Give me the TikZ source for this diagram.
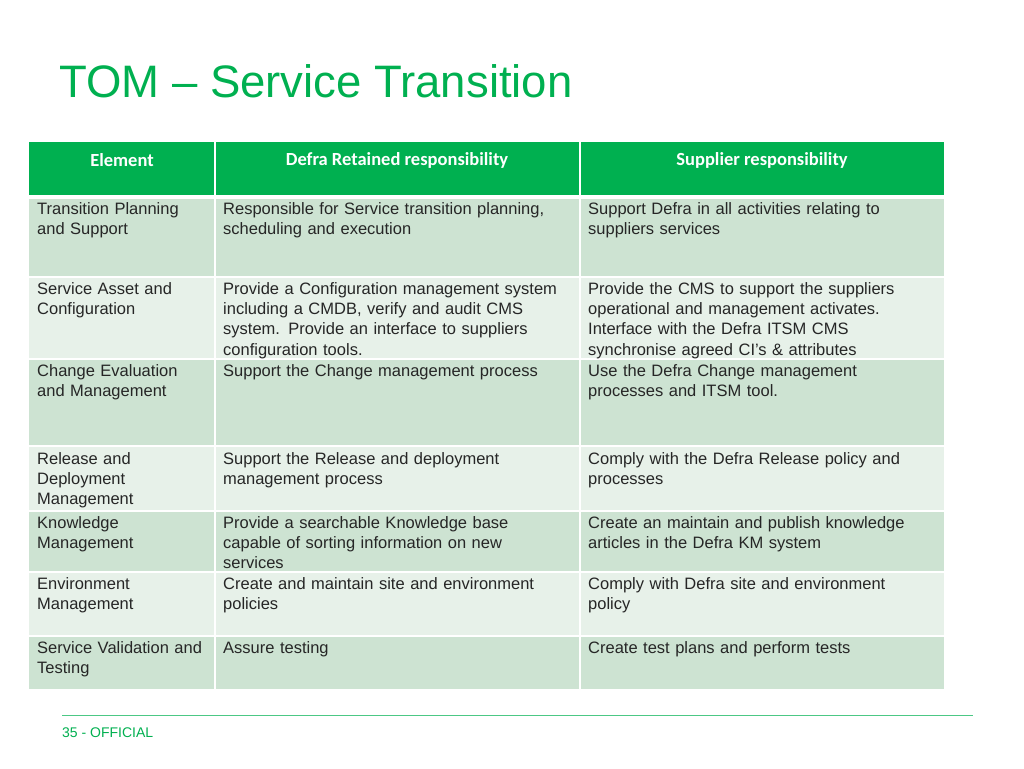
\documentclass[tikz,border=0pt]{standalone}
\usepackage{fontspec}
\setmainfont{Liberation Sans}
\newfontfamily\hdfont{Carlito}
\definecolor{tgreen}{HTML}{00B050}
\definecolor{rdark}{HTML}{CDE3D2}
\definecolor{rlight}{HTML}{E7F1E9}
\begin{document}
\begin{tikzpicture}[x=1pt,y=-1pt,
  cell/.style={anchor=north west,inner sep=0pt,align=left,font=\fontsize{16.5}{20.4}\selectfont,text=black!85},
  wide/.style={cell,text width=355pt},
  narrow/.style={cell,text width=180pt},
  hd/.style={font=\hdfont\bfseries\fontsize{18.5}{20}\selectfont,text=white,anchor=center}]
\useasboundingbox (0,0) rectangle (1024,768);
\fill[white] (0,0) rectangle (1024,768);
\node[anchor=west,text=tgreen,font=\fontsize{45.5}{50}\selectfont,inner sep=0pt] (title) at (59,81) {TOM – Service Transition};
\fill[tgreen] (29,142) rectangle (944,195);
\def\rows{198/277/rdark,277/359/rlight,359/446/rdark,446/511/rlight,511/572/rdark,572/636/rlight,636/689/rdark}
\foreach \a/\b/\c in \rows {\fill[\c] (29,\a) rectangle (944,\b);}
\foreach \a/\b/\c in \rows {\draw[white,line width=1.5pt] (29,\a) -- (944,\a);}
\draw[white,line width=2pt] (215,142) -- (215,689) (580,142) -- (580,689);
\draw[white,line width=2pt] (29,196) -- (944,196);
\node[hd] (h1) at (122,160) {Element};
\node[hd] (h2) at (397,160) {Defra Retained responsibility};
\node[hd] (h3) at (762,160) {Supplier responsibility};
\node[narrow] (a1) at (37,202) {Transition Planning\\and Support};
\node[wide] (b1) at (223,202) {Responsible for Service transition planning,\\scheduling and execution};
\node[wide] (c1) at (588,202) {Support Defra in all activities relating to\\suppliers services};
\node[narrow] (a2) at (37,282) {Service Asset and\\Configuration};
\node[wide] (b2) at (223,282) {Provide a Configuration management system\\including a CMDB, verify and audit CMS\\system. Provide an interface to suppliers\\configuration tools.};
\node[wide] (c2) at (588,282) {Provide the CMS to support the suppliers\\operational and management activates.\\Interface with the Defra ITSM CMS\\synchronise agreed CI’s \& attributes};
\node[narrow] (a3) at (37,364) {Change Evaluation\\and Management};
\node[wide] (b3) at (223,364) {Support the Change management process};
\node[wide] (c3) at (588,364) {Use the Defra Change management\\processes and ITSM tool.};
\node[narrow] (a4) at (37,452) {Release and\\Deployment\\Management};
\node[wide] (b4) at (223,452) {Support the Release and deployment\\management process};
\node[wide] (c4) at (588,452) {Comply with the Defra Release policy and\\processes};
\node[narrow] (a5) at (37,516) {Knowledge\\Management};
\node[wide] (b5) at (223,516) {Provide a searchable Knowledge base\\capable of sorting information on new\\services};
\node[wide] (c5) at (588,516) {Create an maintain and publish knowledge\\articles in the Defra KM system};
\node[narrow] (a6) at (37,577) {Environment\\Management};
\node[wide] (b6) at (223,577) {Create and maintain site and environment\\policies};
\node[wide] (c6) at (588,577) {Comply with Defra site and environment\\policy};
\node[narrow] (a7) at (37,641) {Service Validation and\\Testing};
\node[wide] (b7) at (223,641) {Assure testing};
\node[wide] (c7) at (588,641) {Create test plans and perform tests};
\draw[tgreen!70,line width=1pt] (62,715) -- (973,715);
\node[anchor=west,inner sep=0pt,text=tgreen,font=\fontsize{14}{15}\selectfont] (ft) at (62,733) {35 - OFFICIAL};
\end{tikzpicture}
\end{document}
